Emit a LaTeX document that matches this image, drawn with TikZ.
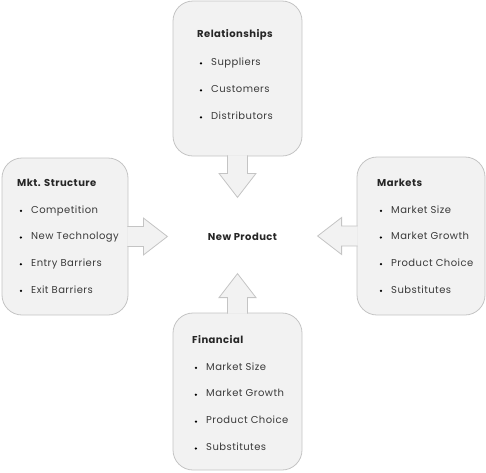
\documentclass[tikz,border=0pt]{standalone}
\usepackage{fontspec}
\setmainfont{Poppins}[LetterSpace=4.5]
\usepackage{tikz}
\usetikzlibrary{positioning}
\definecolor{boxfill}{HTML}{F2F2F2}
\definecolor{boxline}{HTML}{C4C4C4}
\definecolor{entrytext}{HTML}{3A3A3A}
\newcommand{\bul}{\makebox[13pt][l]{\hspace{1.5pt}\tikz[baseline=-2.2pt]\fill[black] (0,0) circle (1.25pt);}}

\begin{document}
\begin{tikzpicture}[x=1pt, y=-1pt,
    infobox/.style={draw=boxline, fill=boxfill, rounded corners=20pt, line width=0.8pt},
    blockarrow/.style={draw=boxline, fill=boxfill, line width=0.8pt, line join=miter},
    heading/.style={anchor=base west, inner sep=0pt, font=\fontsize{10}{12}\selectfont\bfseries, text=black!85},
    entry/.style={anchor=base west, inner sep=0pt, font=\fontsize{10}{12}\selectfont, text=entrytext}]
    \useasboundingbox (0,0) rectangle (486,472);

    % Riquadri
    \node[infobox, minimum width=129pt, minimum height=155pt] (rel) at (237.5,78.5) {};
    \node[infobox, minimum width=126pt, minimum height=157pt] (mkt) at (65,236.5) {};
    \node[infobox, minimum width=128pt, minimum height=158pt] (mar) at (421,236) {};
    \node[infobox, minimum width=129pt, minimum height=157pt] (fin) at (237.5,391.5) {};

    % Frecce verso il centro
    \filldraw[blockarrow] ([xshift=-10pt,yshift=1pt]rel.south) -- ++(0,18) -- ++(-8.5,0) -- ++(18.5,24) -- ++(18.5,-24) -- ++(-8.5,0) -- ++(0,-18);
    \filldraw[blockarrow] ([xshift=-1pt,yshift=10pt]mkt.east) -- ++(16,0) -- ++(0,-8.5) -- ++(24,18.5) -- ++(-24,18.5) -- ++(0,-8.5) -- ++(-16,0);
    \filldraw[blockarrow] ([xshift=1pt,yshift=10pt]mar.west) -- ++(-16,0) -- ++(0,-8.5) -- ++(-24,18.5) -- ++(24,18.5) -- ++(0,-8.5) -- ++(16,0);
    \filldraw[blockarrow] ([xshift=-10pt,yshift=-1pt]fin.north) -- ++(0,-16) -- ++(-8.5,0) -- ++(18.5,-24) -- ++(18.5,24) -- ++(-8.5,0) -- ++(0,16);

    % Centro
    \node[heading, anchor=base] (np) at (242.5,240) {New Product};

    % Relationships
    \node[heading] (rel-h) at (197,37.5) {Relationships};
    \node[entry] (rel-1) at ([xshift=1pt,yshift=-28pt]rel-h.base west) {\bul Suppliers};
    \node[entry] (rel-2) at ([yshift=-27pt]rel-1.base west) {\bul Customers};
    \node[entry] (rel-3) at ([yshift=-27pt]rel-2.base west) {\bul Distributors};

    % Mkt. Structure
    \node[heading] (mkt-h) at (17,186) {Mkt. Structure};
    \node[entry] (mkt-1) at ([xshift=1pt,yshift=-27pt]mkt-h.base west) {\bul Competition};
    \node[entry] (mkt-2) at ([yshift=-26.7pt]mkt-1.base west) {\bul New Technology};
    \node[entry] (mkt-3) at ([yshift=-26.7pt]mkt-2.base west) {\bul Entry Barriers};
    \node[entry] (mkt-4) at ([yshift=-26.7pt]mkt-3.base west) {\bul Exit Barriers};

    % Markets
    \node[heading] (mar-h) at (377,186) {Markets};
    \node[entry] (mar-1) at ([xshift=1pt,yshift=-27pt]mar-h.base west) {\bul Market Size};
    \node[entry] (mar-2) at ([yshift=-26.7pt]mar-1.base west) {\bul Market Growth};
    \node[entry] (mar-3) at ([yshift=-26.7pt]mar-2.base west) {\bul Product Choice};
    \node[entry] (mar-4) at ([yshift=-26.7pt]mar-3.base west) {\bul Substitutes};

    % Financial
    \node[heading] (fin-h) at (192,343) {Financial};
    \node[entry] (fin-1) at ([xshift=1pt,yshift=-27pt]fin-h.base west) {\bul Market Size};
    \node[entry] (fin-2) at ([yshift=-26.9pt]fin-1.base west) {\bul Market Growth};
    \node[entry] (fin-3) at ([yshift=-26.9pt]fin-2.base west) {\bul Product Choice};
    \node[entry] (fin-4) at ([yshift=-26.9pt]fin-3.base west) {\bul Substitutes};
\end{tikzpicture}
\end{document}
